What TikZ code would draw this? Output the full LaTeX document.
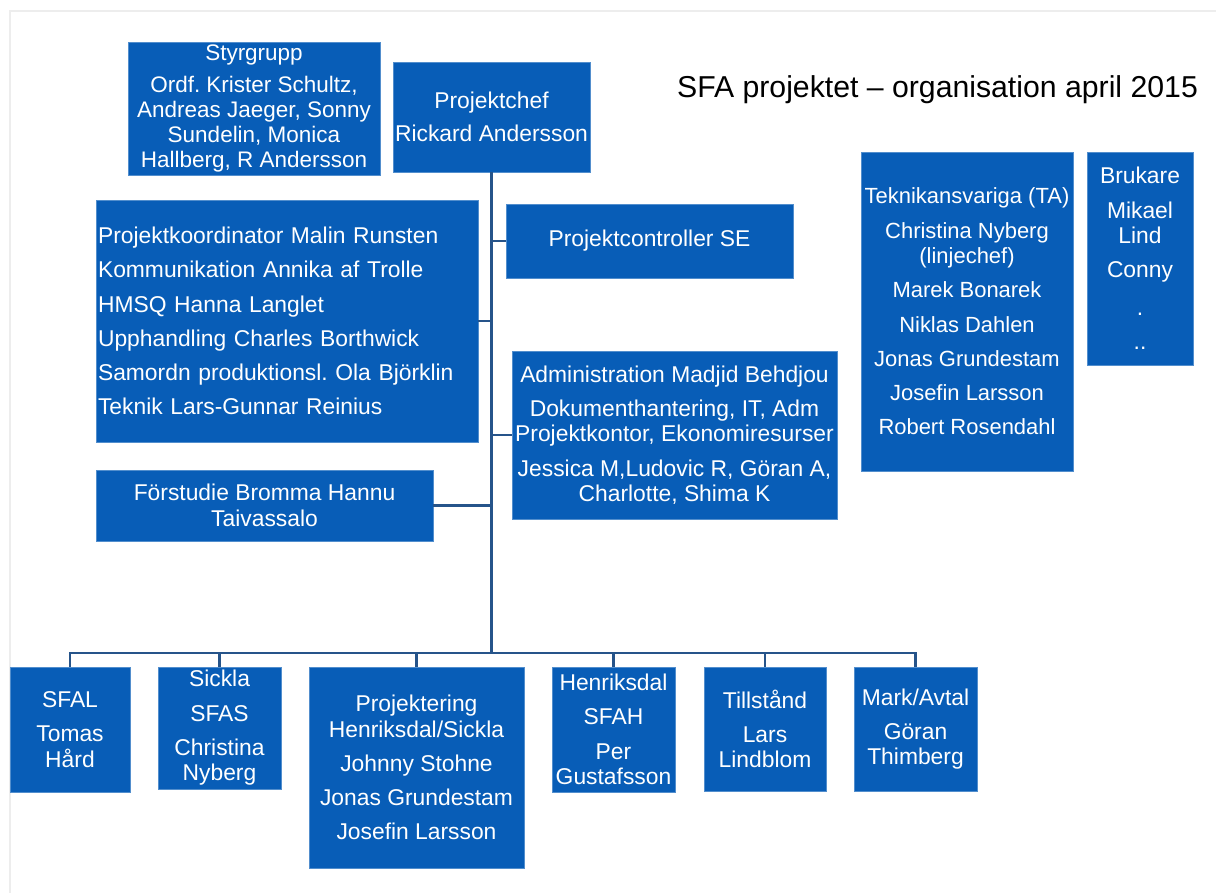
\documentclass[tikz,border=0pt]{standalone}
\usepackage{fontspec}
\setmainfont{Liberation Sans}
\frenchspacing

\definecolor{sfablue}{RGB}{8,93,183}
\definecolor{linjeblue}{RGB}{38,84,138}
\newcommand{\px}{0.02cm}
\newcommand{\boxfont}{\fontsize{13}{14.5}\selectfont}
\tikzset{
	orgbox/.style={fill=sfablue,draw=sfablue!70!white,line width=0.5pt,text=white,inner sep=0pt,align=center,font=\boxfont},
	orgline/.style={draw=linjeblue,line width=1.4pt},
}

\begin{document}
\begin{tikzpicture}[x=\px,y=-\px]
	\useasboundingbox (0,0) rectangle (1216,893);
	\draw[black!7,line width=0.6pt] (10,893) -- (10,11) -- (1216,11);

	\node[font=\fontsize{17.2}{20}\selectfont] (titel) at (937.5,90) {SFA projektet – organisation april 2015};

	% ledning
	\node[orgbox,minimum width=252*\px,minimum height=133*\px,font=\fontsize{12.8}{14.3}\selectfont] (styr) at (254,108.5)
		{Styrgrupp\\[4pt]Ordf. Krister Schultz,\\Andreas Jaeger, Sonny\\Sundelin, Monica\\Hallberg, R Andersson};
	\node[orgbox,minimum width=197*\px,minimum height=110*\px] (chef) at (491.5,117) {Projektchef\\[4pt]Rickard Andersson};

	% stab
	\node[orgbox,align=left,text width=7.56cm,inner xsep=0.04cm,minimum height=242*\px] (koord) at (287,321)
		{Projektkoordinator Malin Runsten\\[5pt]Kommunikation Annika af Trolle\\[5pt]HMSQ Hanna Langlet\\[5pt]Upphandling Charles Borthwick\\[5pt]Samordn produktionsl. Ola Björklin\\[5pt]Teknik Lars-Gunnar Reinius};
	\node[orgbox,minimum width=337*\px,minimum height=71*\px] (forst) at (264.5,505.5) {Förstudie Bromma Hannu\\Taivassalo};
	\node[orgbox,minimum width=287*\px,minimum height=74*\px] (ctrl) at (649.5,241) {Projektcontroller SE};
	\node[orgbox,minimum width=325*\px,minimum height=168*\px] (adm) at (674.5,435)
		{Administration Madjid Behdjou\\[5pt]Dokumenthantering, IT, Adm\\Projektkontor, Ekonomiresurser\\[5pt]Jessica M,Ludovic R, Göran A,\\Charlotte, Shima K};

	\node[orgbox,minimum width=212*\px,minimum height=319*\px,font=\fontsize{12.5}{14.5}\selectfont] (tek) at (967,311.5)
		{Teknikansvariga (TA)\\[5pt]Christina Nyberg\\(linjechef)\\[5pt]Marek Bonarek\\[5pt]Niklas Dahlen\\[5pt]Jonas Grundestam\\[5pt]Josefin Larsson\\[5pt]Robert Rosendahl};
	\node[orgbox,minimum width=106*\px,minimum height=213*\px] (bruk) at (1140,258.5)
		{Brukare\\[5pt]Mikael\\Lind\\[5pt]Conny\\[7pt].\\[5pt]..};

	% delprojekt
	\node[orgbox,minimum width=120*\px,minimum height=125*\px] (sfal) at (70,729.5) {SFAL\\[5pt]Tomas\\Hård};
	\node[orgbox,minimum width=123*\px,minimum height=122*\px] (sickla) at (219.5,728) {Sickla\\[5pt]SFAS\\[5pt]Christina\\Nyberg};
	\node[orgbox,minimum width=215*\px,minimum height=201*\px] (proj) at (416.5,767.5)
		{Projektering\\Henriksdal/Sickla\\[5pt]Johnny Stohne\\[5pt]Jonas Grundestam\\[5pt]Josefin Larsson};
	\node[orgbox,minimum width=123*\px,minimum height=125*\px] (henr) at (613.5,729.5) {Henriksdal\\[5pt]SFAH\\[5pt]Per\\Gustafsson};
	\node[orgbox,minimum width=122*\px,minimum height=124*\px] (till) at (765,729) {Tillstånd\\[5pt]Lars\\Lindblom};
	\node[orgbox,minimum width=123*\px,minimum height=124*\px] (mark) at (915.5,729) {Mark/Avtal\\[5pt]Göran\\Thimberg};

	% linjer
	\coordinate (bus) at (491.5,653);
	\draw[orgline] (chef.south) -- (bus);
	\draw[orgline] (koord.east) -- (koord.east -| chef.south);
	\draw[orgline] (forst.east) -- (forst.east -| chef.south);
	\draw[orgline] (ctrl.west) -- (ctrl.west -| chef.south);
	\draw[orgline] (adm.west) -- (adm.west -| chef.south);
	\foreach \n in {sfal,sickla,proj,henr,till,mark}
		\draw[orgline] (\n.north) |- (bus);

	%\draw[step=50,gray,ultra thin] (0,0) grid (1216,893);
\end{tikzpicture}
\end{document}
